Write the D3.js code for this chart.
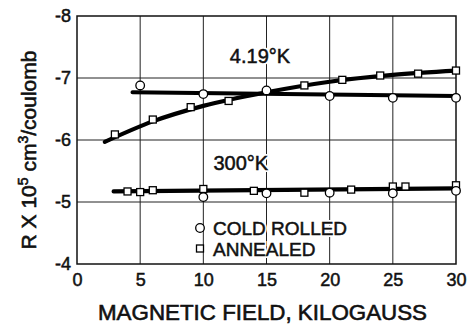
<!DOCTYPE html>
<html><head><meta charset="utf-8">
<script src="https://cdn.jsdelivr.net/npm/d3@7"></script>
<style>body{margin:0;background:#fff}svg{display:block}</style>
</head><body>
<svg id="c" width="468" height="325"></svg>
<script>
const xTicks = [0,5,10,15,20,25,30];
const yTicks = [-4,-5,-6,-7,-8];
// 4.19 K
const annealed4K = [[3,-6.09],[6,-6.33],[9,-6.53],[12,-6.63],[18,-6.88],[21,-6.97],[24,-7.04],[27,-7.07],[30,-7.12]];
const cold4K = [[5,-6.88],[10,-6.74],[15,-6.80],[20,-6.71],[25,-6.68],[30,-6.68]];
const fitAnnealed4K = [[2.2,-5.97],[6,-6.30],[10,-6.55],[15,-6.77],[20,-6.94],[25,-7.05],[30,-7.12]];
const fitCold4K = [[4.4,-6.77],[30,-6.71]];
// 300 K
const annealed300K = [[4,-5.17],[5,-5.16],[6,-5.19],[10,-5.21],[14,-5.18],[18,-5.15],[21.7,-5.20],[25,-5.25],[26,-5.25],[30,-5.27]];
const cold300K = [[10,-5.08],[15,-5.14],[20,-5.15],[25,-5.14],[30,-5.18]];
const fit300K = [[2.9,-5.17],[30,-5.22]];
const curveLabels = [{t:"4.19°K", x:12.1, y:-7.24},{t:"300°K", x:10.8, y:-5.52}];
const legendItems = [{t:"COLD ROLLED", shape:"circle"},{t:"ANNEALED", shape:"square"}];

const svg = d3.select("#c");
const L=77,R=456,T=16,B=264;
const x = d3.scaleLinear().domain([0,30]).range([L,R]);
const y = d3.scaleLinear().domain([-4,-8]).range([B,T]);
const font = "'Liberation Sans', Arial, sans-serif";
const ink = "#111";

// grid
svg.append("g").selectAll("line").data(xTicks.slice(1,-1)).join("line")
  .attr("x1",d=>x(d)).attr("x2",d=>x(d)).attr("y1",T).attr("y2",B)
  .attr("stroke","#222").attr("stroke-width",1);
svg.append("g").selectAll("line").data(yTicks.slice(1,-1)).join("line")
  .attr("x1",L).attr("x2",R).attr("y1",d=>y(d)).attr("y2",d=>y(d))
  .attr("stroke","#222").attr("stroke-width",1);
svg.append("rect").attr("x",L).attr("y",T).attr("width",R-L).attr("height",B-T)
  .attr("fill","none").attr("stroke",ink).attr("stroke-width",1.5);

// axes labels via d3 axes
const xAxis = svg.append("g").attr("transform",`translate(0,${B})`)
  .call(d3.axisBottom(x).tickValues(xTicks).tickSize(0).tickPadding(9).tickFormat(d3.format("d")));
xAxis.select(".domain").remove();
xAxis.selectAll("text").attr("font-family",font).attr("font-size",18).attr("fill",ink)
  .attr("stroke",ink).attr("stroke-width",0.5);
const yAxis = svg.append("g").attr("transform",`translate(${L},0)`)
  .call(d3.axisLeft(y).tickValues(yTicks).tickSize(0).tickPadding(6).tickFormat(d=>"-"+Math.abs(d)));
yAxis.select(".domain").remove();
yAxis.selectAll("text").attr("font-family",font).attr("font-size",18).attr("fill",ink)
  .attr("stroke",ink).attr("stroke-width",0.5);

// titles
svg.append("text").attr("x",(L+R)/2-4).attr("y",320).attr("text-anchor","middle")
  .attr("font-family",font).attr("font-size",22).attr("fill",ink)
  .attr("stroke",ink).attr("stroke-width",0.6)
  .attr("textLength",329).attr("lengthAdjust","spacingAndGlyphs")
  .text("MAGNETIC  FIELD, KILOGAUSS");
const yt = svg.append("text").attr("transform","translate(36,150) rotate(-90)")
  .attr("text-anchor","middle").attr("font-family",font).attr("font-size",21).attr("fill",ink)
  .attr("stroke",ink).attr("stroke-width",0.6);
yt.append("tspan").text("R X 10");
yt.append("tspan").attr("font-size",14).attr("dy",-8).text("5");
yt.append("tspan").attr("dy",8).text(" cm");
yt.append("tspan").attr("font-size",14).attr("dy",-8).text("3");
yt.append("tspan").attr("dy",8).text("/coulomb");

// fit lines
const line = d3.line().x(d=>x(d[0])).y(d=>y(d[1]));
const fits = [[fitAnnealed4K,d3.curveMonotoneX],[fitCold4K,d3.curveLinear],[fit300K,d3.curveLinear]];
fits.forEach(([data,c])=>{
  svg.append("path").datum(data).attr("d",line.curve(c)).attr("fill","none")
    .attr("stroke","#000").attr("stroke-width",4.2).attr("stroke-linecap","round");
});

// markers
function squares(data){
  svg.append("g").selectAll("rect").data(data).join("rect")
    .attr("x",d=>x(d[0])-3.5).attr("y",d=>y(d[1])-3.5).attr("width",7).attr("height",7)
    .attr("fill","#fff").attr("stroke","#000").attr("stroke-width",1.3);
}
function circles(data){
  svg.append("g").selectAll("circle").data(data).join("circle")
    .attr("cx",d=>x(d[0])).attr("cy",d=>y(d[1])).attr("r",4.3)
    .attr("fill","#fff").attr("stroke","#000").attr("stroke-width",1.3);
}
squares(annealed4K); squares(annealed300K);
circles(cold4K); circles(cold300K);

// text with white halo behind
function haloText(g, t, tx, ty, size){
  g.append("text").attr("x",tx).attr("y",ty).attr("font-family",font).attr("font-size",size)
    .attr("fill","#fff").attr("stroke","#fff").attr("stroke-width",4).text(t);
  g.append("text").attr("x",tx).attr("y",ty).attr("font-family",font).attr("font-size",size)
    .attr("fill",ink).attr("stroke",ink).attr("stroke-width",0.5).text(t);
}
const lbl = svg.append("g");
curveLabels.forEach(d=>haloText(lbl, d.t, x(d.x), y(d.y), 20));

// legend
const lg = svg.append("g");
legendItems.forEach((d,i)=>{
  const cy = 228 + i*20.5;
  if(d.shape==="circle") lg.append("circle").attr("cx",200).attr("cy",cy).attr("r",4.3)
    .attr("fill","#fff").attr("stroke","#000").attr("stroke-width",1.3);
  else lg.append("rect").attr("x",196.5).attr("y",cy-3.5).attr("width",7).attr("height",7)
    .attr("fill","#fff").attr("stroke","#000").attr("stroke-width",1.3);
  haloText(lg, d.t, 213, cy+7, 19);
});
</script>
</body></html>
